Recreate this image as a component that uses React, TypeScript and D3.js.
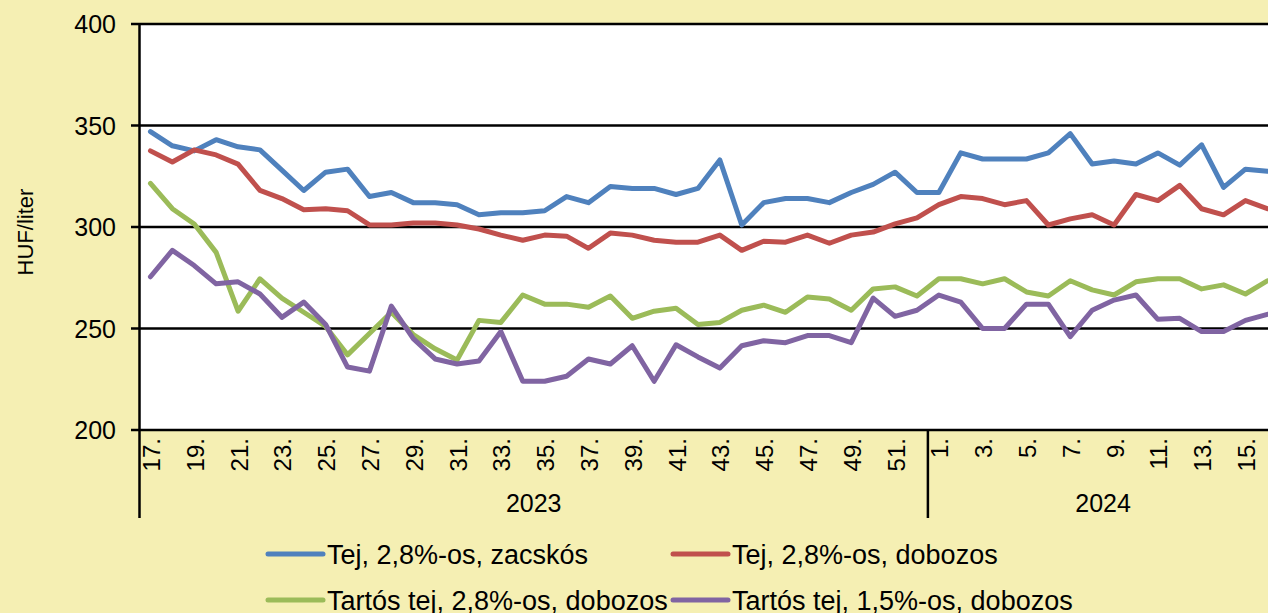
import React from "react";
import * as d3 from "d3";

const weeks2023 = ["17", "18", "19", "20", "21", "22", "23", "24", "25", "26", "27", "28", "29", "30", "31", "32", "33", "34", "35", "36", "37", "38", "39", "40", "41", "42", "43", "44", "45", "46", "47", "48", "49", "50", "51", "52"];
const weeks2024 = ["1", "2", "3", "4", "5", "6", "7", "8", "9", "10", "11", "12", "13", "14", "15", "16"];
const years = ["2023", "2024"];

const tejZacskos = [347, 340, 337.5, 343, 339.5, 338, 328, 318, 327, 328.5, 315, 317, 312, 312, 311, 306, 307, 307,
  308, 315, 312, 320, 319, 319, 316, 319, 333, 301, 312, 314, 314, 312, 317, 321, 327,
  317, 317, 336.5, 333.5, 333.5, 333.5, 336.5, 346, 331, 332.5, 331, 336.5, 330.5, 340.5, 319.5, 328.5, 327.5];
const tejDobozos = [337.5, 332, 338, 335.5, 331, 318, 314, 308.5, 309, 308, 301, 301, 302, 302, 301, 299, 296, 293.5,
  296, 295.5, 289.5, 297, 296, 293.5, 292.5, 292.5, 296, 288.5, 293, 292.5, 296, 292, 296, 297.5, 301.5,
  304.5, 311, 315, 314, 311, 313, 301, 304, 306, 301, 316, 313, 320.5, 309, 306, 313, 309];
const tartos28 = [321.5, 309, 301.5, 287.5, 258.5, 274.5, 265, 258, 251, 237, 247.5, 258, 247, 240, 234.5, 254, 253, 266.5,
  262, 262, 260.5, 266, 255, 258.5, 260, 252, 253, 259, 261.5, 258, 265.5, 264.5, 259, 269.5, 270.5,
  266, 274.5, 274.5, 272, 274.5, 268, 266, 273.5, 269, 266.5, 273, 274.5, 274.5, 269.5, 271.5, 267, 273.5];
const tartos15 = [275.5, 288.5, 281, 272, 273, 267, 255.5, 263, 252, 231, 229, 261, 245, 235, 232.5, 234, 248.5, 224,
  224, 226.5, 235, 232.5, 241.5, 224, 242, 236, 230.5, 241.5, 244, 243, 246.5, 246.5, 243, 265, 256,
  259, 266.5, 263, 250, 250, 262, 262, 246, 259, 264, 266.5, 254.5, 255, 248.5, 248.5, 254, 257];

const seriesNames = ["Tej, 2,8%-os, zacskós", "Tej, 2,8%-os, dobozos", "Tartós tej, 2,8%-os, dobozos", "Tartós tej, 1,5%-os, dobozos"];
const seriesColors = ["#4F81BD", "#C0504D", "#9BBB59", "#8064A2"];
const yTicks = [200, 250, 300, 350, 400];

const W = 1268, H = 613;
const FONT = "'Liberation Sans', Arial, sans-serif";

export default function App() {
  const cats = [...weeks2023.map((w) => "2023-" + w), ...weeks2024.map((w) => "2024-" + w)];
  const labels = [...weeks2023, ...weeks2024];
  const left = 139.5, bandW = 21.9;
  const x = d3.scaleBand<string>().domain(cats).range([left, left + bandW * cats.length]).padding(0);
  const cx = (i: number) => (x(cats[i]) as number) + x.bandwidth() / 2;
  const y = d3.scaleLinear().domain([200, 400]).range([430, 24]);
  const allSeries = [tejZacskos, tejDobozos, tartos28, tartos15];
  const line = d3.line<number>().x((_, i) => cx(i)).y((d) => y(d));
  const divX = x(cats[weeks2023.length]) as number;
  const rightX = left + bandW * cats.length;
  const yearCenters = [(left + divX) / 2, (divX + rightX) / 2];
  const legendPos = [[268, 554], [673, 554], [268, 600], [673, 600]];

  return (
    <svg width={W} height={H} style={{ position: "absolute", left: 0, top: 0, display: "block" }} fontFamily={FONT}>
      <rect x={0} y={0} width={W} height={H} fill="#F5EFB3" />
      <rect x={left} y={y(400)} width={rightX - left} height={y(200) - y(400)} fill="#FFFFFF" />
      {yTicks.map((t) => (
        <g key={t}>
          <line x1={131} x2={rightX} y1={y(t)} y2={y(t)} stroke="#000" strokeWidth={2.5} />
          <text x={116} y={y(t)} dy="0.36em" textAnchor="end" fontSize={25} fill="#000">{t}</text>
        </g>
      ))}
      <line x1={left} x2={left} y1={y(400) - 1} y2={518} stroke="#000" strokeWidth={2.5} />
      <line x1={divX} x2={divX} y1={y(200)} y2={518} stroke="#000" strokeWidth={2.5} />
      <text transform={`translate(25,232) rotate(-90)`} textAnchor="middle" dy="0.36em" fontSize={22} fill="#000">HUF/liter</text>
      {labels.map((l, i) => {
        const show = i < weeks2023.length ? i % 2 === 0 : (i - weeks2023.length) % 2 === 0;
        if (!show) return null;
        return (
          <text key={i} transform={`translate(${cx(i) + 1},438) rotate(-90)`} textAnchor="end" dy="0.36em" fontSize={24} fill="#000">{l + "."}</text>
        );
      })}
      {years.map((yr, i) => (
        <text key={yr} x={yearCenters[i]} y={512} textAnchor="middle" fontSize={25} fill="#000">{yr}</text>
      ))}
      {allSeries.map((s, k) => (
        <path key={k} d={line(s) as string} fill="none" stroke={seriesColors[k]} strokeWidth={5} strokeLinejoin="round" strokeLinecap="round" />
      ))}
      {seriesNames.map((n, k) => (
        <g key={n}>
          <line x1={legendPos[k][0]} x2={legendPos[k][0] + 55} y1={legendPos[k][1]} y2={legendPos[k][1]} stroke={seriesColors[k]} strokeWidth={5} strokeLinecap="round" />
          <text x={legendPos[k][0] + 59} y={legendPos[k][1]} dy="0.36em" fontSize={27} fill="#000">{n}</text>
        </g>
      ))}
    </svg>
  );
}
